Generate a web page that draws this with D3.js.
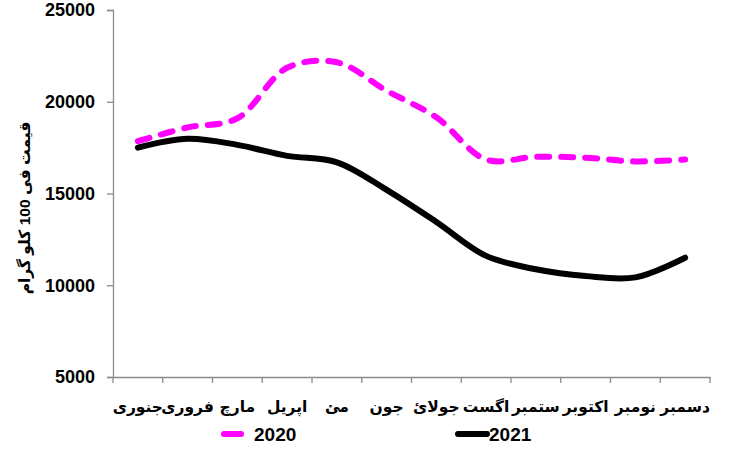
<!DOCTYPE html>
<html><head><meta charset="utf-8">
<script src="https://cdn.jsdelivr.net/npm/d3@7"></script>
<style>body{margin:0;background:#fff}svg{display:block}</style>
</head><body><svg id="c" width="729" height="451"></svg>
<script>
const months = ["جنوری","فروری","مارچ","اپریل","مئ","جون","جولائ","اگست","ستمبر","اکتوبر","نومبر","دسمبر"];
const values2020 = [17850, 18600, 19100, 21850, 22150, 20600, 19150, 16850, 17000, 16950, 16750, 16850];
const values2021 = [17500, 17980, 17650, 17050, 16700, 15200, 13450, 11600, 10870, 10500, 10430, 11500];
const yTicks = [5000, 10000, 15000, 20000, 25000];
const seriesNames = ["2020", "2021"];
const yTitle = "قیمت فی 100 کلو گرام";

const svg = d3.select("#c");
const mLeft = 113, mRight = 710, mTop = 10, mBottom = 377;
const x = d3.scaleBand().domain(months).range([mLeft, mRight]);
const y = d3.scaleLinear().domain([5000, 25000]).range([mBottom, mTop]);
const font = "'Liberation Sans', Arial, 'DejaVu Sans', sans-serif";

// y axis
const ya = svg.append("g").attr("transform", `translate(${mLeft},0)`)
  .call(d3.axisLeft(y).tickValues(yTicks).tickSize(6).tickPadding(12).tickFormat(d3.format("d")));
ya.select(".domain").attr("stroke", "#8c8c8c").attr("stroke-width", 1.3);
ya.selectAll(".tick line").attr("stroke", "#8c8c8c").attr("stroke-width", 1.3);
ya.selectAll(".tick text").attr("font-family", font).attr("font-weight", "bold")
  .attr("font-size", 18).attr("fill", "#000");

// x axis
const xa = svg.append("g").attr("transform", `translate(0,${mBottom})`)
  .call(d3.axisBottom(x).tickSize(0).tickFormat(""));
xa.select(".domain").attr("stroke", "#8c8c8c").attr("stroke-width", 1.3);
const edges = months.map(m => x(m)).concat([mRight]);
xa.selectAll("line.edge").data(edges).enter().append("line").attr("class", "edge")
  .attr("x1", d => d).attr("x2", d => d).attr("y1", 0).attr("y2", 6)
  .attr("stroke", "#8c8c8c").attr("stroke-width", 1.3);
svg.append("g").selectAll("text").data(months).enter().append("text")
  .attr("x", d => x(d) + x.bandwidth() / 2).attr("y", 412)
  .attr("text-anchor", "middle").attr("direction", "rtl")
  .attr("font-family", font).attr("font-weight", "bold").attr("font-size", 15.5)
  .attr("fill", "#000").text(d => d);

// y title
svg.append("text").attr("transform", "translate(30,208) rotate(-90)")
  .attr("text-anchor", "middle").attr("font-family", font).attr("font-weight", "bold")
  .attr("font-size", 15.5).attr("fill", "#000").text(yTitle);

const cx = d => x(d) + x.bandwidth() / 2;
const line = d3.line().x(d => cx(d.m)).y(d => y(d.v)).curve(d3.curveCatmullRom.alpha(0.5));

svg.append("path").datum(months.map((m, i) => ({m, v: values2021[i]})))
  .attr("d", line).attr("fill", "none").attr("stroke", "#000").attr("stroke-width", 6)
  .attr("stroke-linecap", "round");
svg.append("path").datum(months.map((m, i) => ({m, v: values2020[i]})))
  .attr("d", line).attr("fill", "none").attr("stroke", "#ff00ff").attr("stroke-width", 6)
  .attr("stroke-dasharray", "12,12").attr("stroke-linecap", "round");

// legend
const lg = svg.append("g");
lg.append("line").attr("x1", 224).attr("x2", 241).attr("y1", 434).attr("y2", 434)
  .attr("stroke", "#ff00ff").attr("stroke-width", 6).attr("stroke-linecap", "round");
lg.append("text").attr("x", 254).attr("y", 441).attr("font-family", font).attr("font-weight", "bold")
  .attr("font-size", 19).attr("fill", "#000").text(seriesNames[0]);
lg.append("line").attr("x1", 458).attr("x2", 487).attr("y1", 434).attr("y2", 434)
  .attr("stroke", "#000").attr("stroke-width", 6).attr("stroke-linecap", "round");
lg.append("text").attr("x", 489).attr("y", 441).attr("font-family", font).attr("font-weight", "bold")
  .attr("font-size", 19).attr("fill", "#000").text(seriesNames[1]);
</script></body></html>
